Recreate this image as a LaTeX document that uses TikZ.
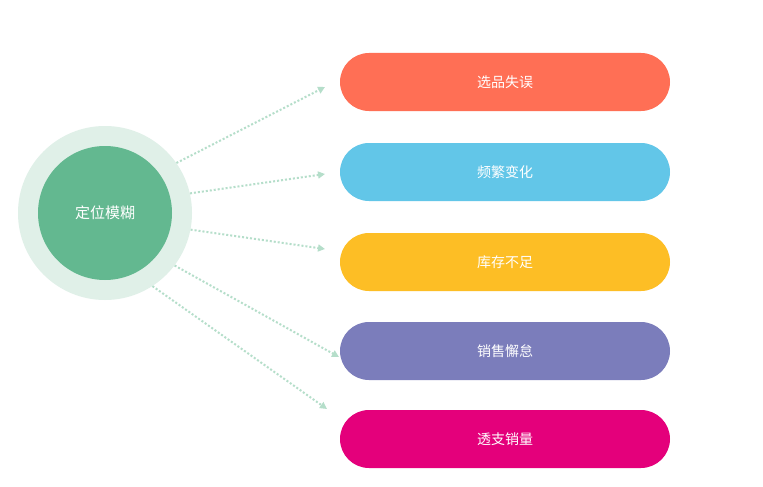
\documentclass[tikz,border=0pt]{standalone}
\usepackage{fontspec}
\newfontfamily\cjk{Noto Sans CJK SC}
\usetikzlibrary{arrows.meta}
\definecolor{cred}{HTML}{FF6F55}
\definecolor{cblue}{HTML}{62C6E8}
\definecolor{cyel}{HTML}{FDBE25}
\definecolor{cpur}{HTML}{7B7DBB}
\definecolor{cmag}{HTML}{E4007B}
\definecolor{cgreen}{HTML}{63B890}
\definecolor{cring}{HTML}{E0F0E8}
\definecolor{carrow}{HTML}{B5DECA}
\tikzset{
pill/.style={rounded corners=29pt,minimum width=330pt,minimum height=58pt,inner sep=0pt,text=white,font=\cjk\fontsize{14pt}{16pt}\selectfont},
conn/.style={draw=carrow,line width=2pt,dotted,-{Triangle[length=7pt,width=7pt]}}
}
\begin{document}
\begin{tikzpicture}[x=1pt,y=-1pt]
\useasboundingbox[fill=white] (0,0) rectangle (763,487);
\node[circle,fill=cring,minimum size=174pt,inner sep=0pt] (ring) at (105,213) {};
\node[circle,fill=cgreen,minimum size=134pt,inner sep=0pt,text=white,font=\cjk\fontsize{15pt}{17pt}\selectfont] (c) at (105,213) {定位模糊};
\node[pill,fill=cred] (p1) at (505,82) {选品失误};
\node[pill,fill=cblue] (p2) at (505,172) {频繁变化};
\node[pill,fill=cyel] (p3) at (505,262) {库存不足};
\node[pill,fill=cpur] (p4) at (505,351) {销售懈怠};
\node[pill,fill=cmag] (p5) at (505,439) {透支销量};
\coordinate (e1) at (325,87);
\coordinate (e2) at (325,174);
\coordinate (e3) at (325,249);
\coordinate (e4) at (339,357);
\coordinate (e5) at (327,409);
\draw[conn] (ring.35) -- (e1);
\draw[conn] (ring.13) -- (e2);
\draw[conn] (ring.-11) -- (e3);
\draw[conn] (ring.-37) -- (e4);
\draw[conn] (ring.-57) -- (e5);
\end{tikzpicture}
\end{document}
